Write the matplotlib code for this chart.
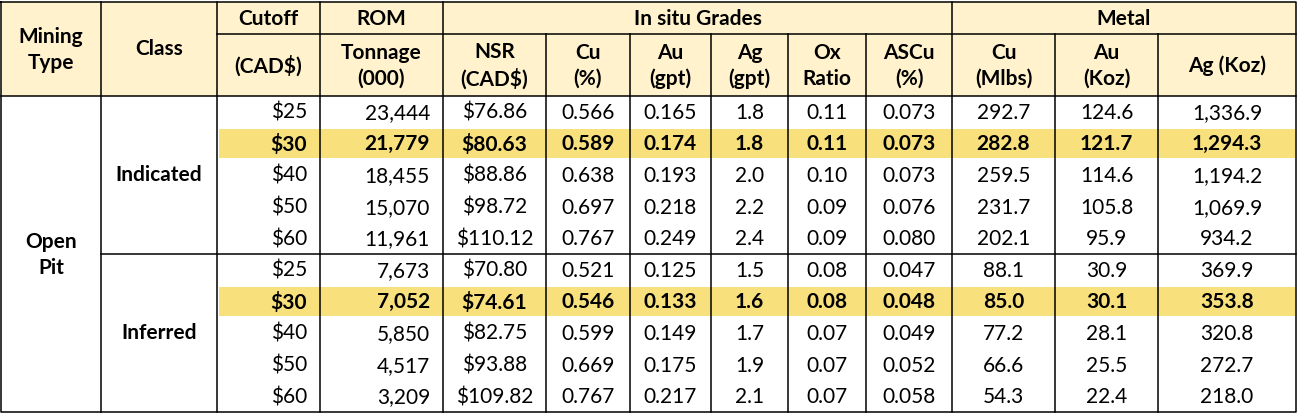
import matplotlib.pyplot as plt
from matplotlib.patches import Rectangle

plt.rcParams["font.family"] = ["Lato", "DejaVu Sans"]

# ── Table data ────────────────────────────────────────────────────────────────
mining_type = "Open\nPit"
classes = ["Indicated", "Inferred"]
cutoffs = [25, 30, 40, 50, 60, 25, 30, 40, 50, 60]
tonnage = [23444, 21779, 18455, 15070, 11961, 7673, 7052, 5850, 4517, 3209]
nsr = [76.86, 80.63, 88.86, 98.72, 110.12, 70.80, 74.61, 82.75, 93.88, 109.82]
cu_pct = [0.566, 0.589, 0.638, 0.697, 0.767, 0.521, 0.546, 0.599, 0.669, 0.767]
au_gpt = [0.165, 0.174, 0.193, 0.218, 0.249, 0.125, 0.133, 0.149, 0.175, 0.217]
ag_gpt = [1.8, 1.8, 2.0, 2.2, 2.4, 1.5, 1.6, 1.7, 1.9, 2.1]
ox_ratio = [0.11, 0.11, 0.10, 0.09, 0.09, 0.08, 0.08, 0.07, 0.07, 0.07]
ascu = [0.073, 0.073, 0.073, 0.076, 0.080, 0.047, 0.048, 0.049, 0.052, 0.058]
cu_mlbs = [292.7, 282.8, 259.5, 231.7, 202.1, 88.1, 85.0, 77.2, 66.6, 54.3]
au_koz = [124.6, 121.7, 114.6, 105.8, 95.9, 30.9, 30.1, 28.1, 25.5, 22.4]
ag_koz = [1336.9, 1294.3, 1194.2, 1069.9, 934.2, 369.9, 353.8, 320.8, 272.7, 218.0]
highlight_rows = [1, 6]

group_headers = ["Cutoff", "ROM", "In situ Grades", "Metal"]
sub_headers = ["(CAD$)", "Tonnage\n(000)", "NSR\n(CAD$)", "Cu\n(%)", "Au\n(gpt)",
               "Ag\n(gpt)", "Ox\nRatio", "ASCu\n(%)", "Cu\n(Mlbs)", "Au\n(Koz)", "Ag (Koz)"]

columns = [
    [f"${c}" for c in cutoffs],
    [f"{t:,}" for t in tonnage],
    [f"${v:.2f}" for v in nsr],
    [f"{v:.3f}" for v in cu_pct],
    [f"{v:.3f}" for v in au_gpt],
    [f"{v:.1f}" for v in ag_gpt],
    [f"{v:.2f}" for v in ox_ratio],
    [f"{v:.3f}" for v in ascu],
    [f"{v:.1f}" for v in cu_mlbs],
    [f"{v:.1f}" for v in au_koz],
    [f"{v:,.1f}" for v in ag_koz],
]

# ── Layout (pixel grid) ───────────────────────────────────────────────────────
W, H = 1298, 413
X = [1, 101, 217, 320, 443, 546, 630, 711, 788, 866, 952, 1055, 1158, 1296]
TOP, HDR1, HDR2, BOT = 2, 34, 96, 412
ROW_H = (BOT - HDR2) / 10

HEADER_BG = "#FFF2CC"
HIGHLIGHT = "#F8E07C"
FS = 15
LS = 1.35

fig = plt.figure(figsize=(W / 100, H / 100), dpi=100)
ax = fig.add_axes([0, 0, 1, 1])
ax.set_xlim(0, W)
ax.set_ylim(H, 0)
ax.axis("off")

# backgrounds
ax.add_patch(Rectangle((X[0], TOP), X[-1] - X[0], HDR2 - TOP, color=HEADER_BG, lw=0))
for r in highlight_rows:
    y0 = HDR2 + r * ROW_H
    ax.add_patch(Rectangle((X[2] + 1.5, y0 + 1), X[-1] - X[2] - 3, ROW_H - 2,
                           color=HIGHLIGHT, lw=0))

# grid lines
lw = 1.1
ax.plot([X[0], X[-1], X[-1], X[0], X[0]], [TOP, TOP, BOT, BOT, TOP], color="black", lw=lw)
ax.plot([X[2], X[-1]], [HDR1, HDR1], color="black", lw=lw)
ax.plot([X[0], X[-1]], [HDR2, HDR2], color="black", lw=lw)
ax.plot([X[1], X[-1]], [HDR2 + 5 * ROW_H] * 2, color="black", lw=lw)
for i in [1, 2, 3, 4, 10]:
    ax.plot([X[i], X[i]], [TOP, BOT], color="black", lw=lw)
for i in [5, 6, 7, 8, 9, 11, 12]:
    ax.plot([X[i], X[i]], [HDR1, BOT], color="black", lw=lw)

# headers
hdr_mid = (TOP + HDR2) / 2
ax.text((X[0] + X[1]) / 2, hdr_mid + 1, "Mining\nType", ha="center", va="center",
        fontsize=FS, fontweight="bold", linespacing=LS)
ax.text((X[1] + X[2]) / 2, hdr_mid, "Class", ha="center", va="center",
        fontsize=FS, fontweight="bold")
g_spans = [(X[2], X[3]), (X[3], X[4]), (X[4], X[10]), (X[10], X[13])]
for name, (a, b) in zip(group_headers, g_spans):
    ax.text((a + b) / 2, (TOP + HDR1) / 2 + 1, name, ha="center", va="center",
            fontsize=FS, fontweight="bold")
for j, name in enumerate(sub_headers):
    ax.text((X[j + 2] + X[j + 3]) / 2, (HDR1 + HDR2) / 2 + 1, name, ha="center",
            va="center", fontsize=FS, fontweight="bold", linespacing=LS)

# row labels
ax.text((X[0] + X[1]) / 2, (HDR2 + BOT) / 2 + 1, mining_type, ha="center", va="center",
        fontsize=FS, fontweight="bold", linespacing=LS)
for k, name in enumerate(classes):
    y = HDR2 + (5 * k + 2.5) * ROW_H
    ax.text((X[1] + X[2]) / 2, y, name, ha="center", va="center",
            fontsize=FS, fontweight="bold")

# cells
for j, col in enumerate(columns):
    a, b = X[j + 2], X[j + 3]
    for r, s in enumerate(col):
        y = HDR2 + (r + 0.5) * ROW_H + 1
        weight = "bold" if r in highlight_rows else "normal"
        if j < 2:
            ax.text(b - 13, y, s, ha="right", va="center", fontsize=FS, fontweight=weight)
        else:
            ax.text((a + b) / 2, y, s, ha="center", va="center", fontsize=FS,
                    fontweight=weight)

fig.savefig("out.png", dpi=100)
